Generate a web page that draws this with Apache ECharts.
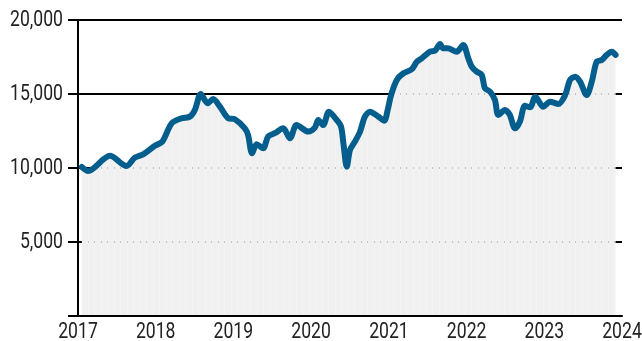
<!DOCTYPE html>
<html>
<head>
<meta charset="utf-8">
<style>
  html, body { margin: 0; padding: 0; background: #fff; }
  #chart { width: 642px; height: 341px; }
</style>
<script src="https://cdn.jsdelivr.net/npm/echarts@6/dist/echarts.min.js"></script>
</head>
<body>
<div id="chart"></div>
<script>
// Index level, sampled at turning points
const dates = [
  '2017-01-19', '2017-02-18', '2017-05-31', '2017-08-17', '2017-09-25', '2017-11-03',
  '2017-12-28', '2018-02-01', '2018-03-17', '2018-05-03', '2018-06-11', '2018-07-04',
  '2018-08-01', '2018-09-02', '2018-09-28', '2018-10-30', '2018-12-08', '2019-01-08',
  '2019-02-24', '2019-03-11', '2019-03-30', '2019-04-20', '2019-05-21', '2019-06-13',
  '2019-07-15', '2019-08-23', '2019-09-24', '2019-10-25', '2019-12-19', '2020-01-19',
  '2020-02-04', '2020-02-27', '2020-03-25', '2020-05-01', '2020-05-21', '2020-06-01',
  '2020-06-17', '2020-07-02', '2020-07-25', '2020-08-18', '2020-09-10', '2020-10-04',
  '2020-11-12', '2020-12-10', '2020-12-26', '2021-01-11', '2021-02-07', '2021-03-10',
  '2021-04-18', '2021-05-12', '2021-06-04', '2021-07-13', '2021-08-06', '2021-08-29',
  '2021-09-12', '2021-10-04', '2021-11-15', '2021-12-16', '2022-01-09', '2022-01-25',
  '2022-02-17', '2022-03-13', '2022-03-28', '2022-04-21', '2022-05-14', '2022-05-30',
  '2022-06-30', '2022-07-23', '2022-08-16', '2022-09-08', '2022-10-02', '2022-10-26',
  '2022-11-20', '2022-12-27', '2023-01-28', '2023-03-08', '2023-04-09', '2023-05-02',
  '2023-05-26', '2023-06-18', '2023-07-19', '2023-08-12', '2023-09-04', '2023-09-28',
  '2023-10-21', '2023-11-14', '2023-12-02'
];
const values = [
  10070, 9800, 10830, 10135, 10700, 10925,
  11500, 11780, 13020, 13360, 13470, 13920,
  15000, 14370, 14660, 14140, 13360, 13290,
  12680, 12230, 10990, 11600, 11330, 12120,
  12350, 12680, 12010, 12900, 12460, 12730,
  13240, 12900, 13800, 13240, 12790, 11670,
  10090, 11220, 11780, 12450, 13470, 13800,
  13470, 13200, 13920, 14930, 15950, 16400,
  16670, 17180, 17410, 17860, 17930, 18380,
  18090, 18090, 17860, 18310, 17410, 16850,
  16510, 16290, 15390, 15160, 14600, 13580,
  13920, 13580, 12680, 13130, 14200, 14100,
  14820, 14140, 14480, 14330, 14930, 15950,
  16170, 15830, 14930, 15830, 17180, 17300,
  17640, 17860, 17640
];
const yTicks = [0, 5000, 10000, 15000, 20000];
const xTickYears = ['2017', '2018', '2019', '2020', '2021', '2022', '2023', '2024'];

const seriesData = dates.map((d, i) => [d, values[i]]);
const LABEL_FONT = 'Roboto, sans-serif';
const LABEL_SIZE = 22;
const LABEL_SQUEEZE = 0.8;   // narrow the digits horizontally
const AREA_FILL = '#f0f0f0';

const chart = echarts.init(document.getElementById('chart'), null, { renderer: 'canvas' });
chart.setOption({
  animation: false,
  grid: { left: 78, right: 20, top: 20, bottom: 25, containLabel: false, outerBoundsMode: 'none' },
  xAxis: {
    type: 'time',
    min: xTickYears[0] + '-01-01',
    max: xTickYears[xTickYears.length - 1] + '-01-01',
    z: 5,
    axisLine: { show: true, lineStyle: { color: '#000', width: 2 } },
    axisTick: { show: false },
    splitLine: { show: false },
    axisLabel: { show: false }
  },
  yAxis: {
    type: 'value',
    min: yTicks[0],
    max: yTicks[yTicks.length - 1],
    interval: yTicks[1] - yTicks[0],
    axisLine: { show: true, lineStyle: { color: '#000', width: 2 } },
    axisTick: { show: true, length: 10, lineStyle: { color: '#000', width: 2 } },
    splitLine: { show: true, lineStyle: { color: '#000', width: 2 } },
    axisLabel: { show: false }
  },
  series: [
    {
      id: 'area',
      type: 'line',
      data: seriesData,
      smooth: 0.3,
      symbol: 'none',
      z: 1,
      lineStyle: { width: 0, opacity: 0 },
      areaStyle: { color: AREA_FILL, opacity: 1 }
    },
    {
      id: 'index',
      type: 'line',
      data: seriesData,
      smooth: 0.3,
      symbol: 'none',
      z: 3,
      lineStyle: { width: 6, color: '#045e8d', cap: 'round', join: 'round' }
    }
  ]
});

// Pixel positions from the axes
const xPx = d => chart.convertToPixel({ xAxisIndex: 0 }, +new Date(d + 'T00:00:00Z'));
const yPx = v => chart.convertToPixel({ yAxisIndex: 0 }, v);

// Area fill: one year wide tile with monthly seams and dotted guides at the gridlines
const yearW = Math.round(xPx(xTickYears[1] + '-01-01') - xPx(xTickYears[0] + '-01-01'));
const stepH = Math.round(yPx(yTicks[0]) - yPx(yTicks[1]));
const tile = document.createElement('canvas');
tile.width = yearW;
tile.height = stepH;
const g = tile.getContext('2d');
g.fillStyle = AREA_FILL;
g.fillRect(0, 0, yearW, stepH);
const x0 = xPx(xTickYears[0] + '-01-01');
const yOff = ((Math.round(yPx(yTicks[1])) % stepH) + stepH) % stepH;
const xOff = ((Math.round(x0) % yearW) + yearW) % yearW;
for (let m = 0; m < 12; m++) {
  const cx = (xOff + Math.round(m * yearW / 12) + 3) % yearW;
  g.fillStyle = '#f4f4f4';
  g.fillRect(cx, 0, 1, stepH);
  g.fillStyle = '#c2c2c2';
  g.fillRect(cx, yOff - 1, 1, 2);
}

const graphics = [];
yTicks.slice(1).forEach(v => {
  graphics.push({
    type: 'text',
    x: x0 - 15,
    y: yPx(v),
    scaleX: LABEL_SQUEEZE,
    silent: true,
    style: {
      text: v.toLocaleString('en-US'),
      fontFamily: LABEL_FONT, fontSize: LABEL_SIZE, fill: '#222',
      align: 'right', verticalAlign: 'middle'
    }
  });
});
xTickYears.forEach(y => {
  graphics.push({
    type: 'text',
    x: xPx(y + '-01-01'),
    y: yPx(yTicks[0]) + 5,
    scaleX: LABEL_SQUEEZE,
    silent: true,
    style: {
      text: y,
      fontFamily: LABEL_FONT, fontSize: LABEL_SIZE, fill: '#222',
      align: 'center', verticalAlign: 'top'
    }
  });
});

chart.setOption({
  series: [{ id: 'area', areaStyle: { color: { image: tile, repeat: 'repeat' } } }],
  graphic: graphics
});
</script>
</body>
</html>
